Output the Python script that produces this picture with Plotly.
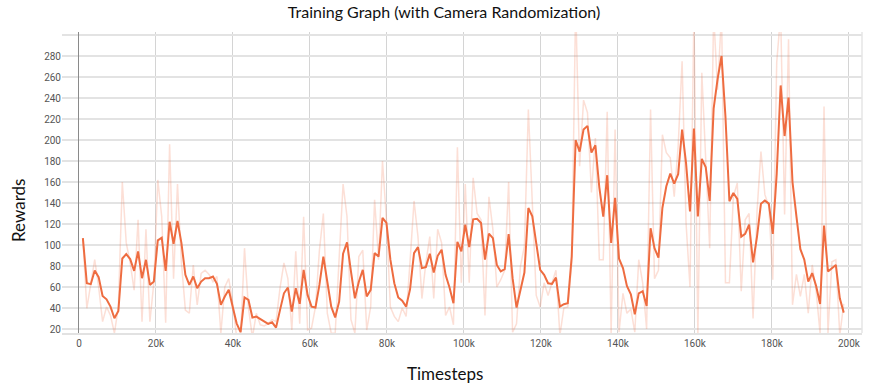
import plotly.graph_objects as go

# ---- data ----
STEP = 1024  # timesteps between logged points

smoothed_rewards = [
    106.6, 63.6, 62.7, 75.7, 69.4, 51.5, 48.3, 41.3, 30.2, 37.2,
    87.2, 91.3, 86.6, 75.4, 93.9, 68.4, 85.9, 62.0, 65.2, 104.4,
    107.0, 75.4, 122.2, 101.2, 122.9, 101.8, 71.6, 62.0, 70.0, 58.9,
    65.2, 68.4, 68.4, 70.0, 63.0, 43.0, 51.0, 57.3, 41.3, 25.4,
    17.0, 50.0, 47.7, 31.0, 31.8, 29.2, 27.0, 24.8, 26.4, 21.3,
    38.0, 54.0, 59.5, 36.6, 58.9, 44.0, 76.4, 52.5, 41.3, 40.4,
    62.0, 89.0, 65.0, 41.3, 31.0, 46.0, 91.7, 102.5, 74.8, 49.3,
    65.0, 76.4, 51.0, 57.3, 92.4, 89.0, 125.8, 121.0, 86.0, 63.6,
    50.0, 47.0, 41.3, 58.0, 92.3, 98.0, 78.0, 79.0, 91.7, 73.8,
    89.7, 95.5, 71.6, 59.5, 44.5, 103.0, 94.0, 119.4, 98.0, 124.5,
    125.0, 121.0, 86.0, 110.8, 106.6, 81.0, 74.8, 77.0, 110.4, 68.4,
    40.4, 57.3, 73.8, 135.3, 127.3, 101.8, 76.4, 71.6, 63.6, 63.0,
    69.0, 41.3, 43.6, 44.5, 89.0, 200.0, 189.0, 210.0, 213.5, 188.0,
    195.0, 155.0, 127.0, 166.5, 102.0, 145.0, 87.0, 78.0, 61.0, 53.0,
    34.0, 54.0, 56.0, 42.0, 116.0, 97.0, 88.0, 135.3, 156.0, 168.0,
    158.5, 167.5, 210.0, 178.0, 132.0, 211.0, 127.3, 182.0, 174.0, 142.0,
    230.0, 258.0, 280.0, 222.0, 141.7, 149.6, 144.0, 108.0, 110.6, 119.4,
    83.4, 108.0, 139.4, 142.3, 139.4, 110.6, 168.0, 252.0, 203.8, 240.4,
    160.0, 127.3, 96.0, 86.0, 65.2, 73.2, 61.0, 43.9, 118.5, 74.8,
    78.0, 81.0, 49.3, 35.6,
]

raw_rewards = [
    106.6, 39.7, 63, 86, 60, 27, 41, 33, 16, 41,
    160, 102, 83, 57, 124, 27, 115, 27, 64, 162,
    127, 26, 196, 68, 158, 83, 38, 35, 81, 43,
    73, 76, 72, 65, 70, 16, 60, 68, 45, 12,
    12, 97, 40, 12, 35, 24, 23, 25, 29, 27,
    59, 83, 68, 19, 94, 25, 127, 19, 21, 41,
    95, 130, 35, 16, 16, 86, 158, 127, 29, 16,
    89, 95, 19, 41, 143, 86, 180, 124, 41, 32,
    27, 40, 32, 85, 142, 108, 49, 83, 108, 49,
    115, 102, 33, 41, 24, 193, 64, 158, 64, 164,
    130, 124, 33, 146, 115, 60, 67, 76, 160, 17,
    25, 80, 99, 229, 134, 52, 41, 64, 52, 64,
    76, 14, 40, 41, 83, 330, 175, 238, 226, 150,
    202, 86, 86, 227, 16, 210, 17, 54, 35, 39,
    17, 86, 64, 20, 229, 68, 76, 205, 188, 183,
    146, 194, 275, 121, 60, 320, 14, 264, 185, 97,
    320, 248, 320, 64, 64, 146, 159, 56, 124, 130,
    30, 132, 189, 148, 137, 67, 274, 320, 129, 296,
    43, 72, 51, 72, 35, 81, 56, 16, 232, 16,
    84, 86, 14, 44,
]

timesteps = [STEP * (i + 1) for i in range(len(smoothed_rewards))]

x_tick_values = [0, 20000, 40000, 60000, 80000, 100000, 120000, 140000, 160000, 180000, 200000]
x_tick_labels = ["0", "20k", "40k", "60k", "80k", "100k", "120k", "140k", "160k", "180k", "200k"]
y_tick_values = [20, 40, 60, 80, 100, 120, 140, 160, 180, 200, 220, 240, 260, 280, 300]
y_tick_labels = ["20", "40", "60", "80", "100", "120", "140", "160", "180", "200", "220", "240", "260", "280", ""]

title_text = "Training Graph (with Camera Randomization)"
x_title = "Timesteps"
y_title = "Rewards"

# ---- figure ----
fig = go.Figure()
fig.add_trace(go.Scatter(
    x=timesteps, y=raw_rewards, mode="lines",
    line=dict(color="rgba(240,110,70,0.22)", width=1.5),
    hoverinfo="skip", showlegend=False,
))
fig.add_trace(go.Scatter(
    x=timesteps, y=smoothed_rewards, mode="lines",
    line=dict(color="#ee6c40", width=2),
    showlegend=False,
))

fig.update_layout(
    width=888, height=392,
    margin=dict(l=62, r=26, t=32, b=59),
    paper_bgcolor="white", plot_bgcolor="white",
    hovermode=False,
    title=dict(text=title_text, x=0.5, xref="container", xanchor="center",
               y=1 - 12 / 392, yref="container", yanchor="middle",
               font=dict(family="Lato", size=16, color="#111")),
    xaxis=dict(
        range=[-4400, 203400],
        tickvals=x_tick_values, ticktext=x_tick_labels,
        showgrid=True, gridcolor="#d4d4d4", gridwidth=1,
        zeroline=True, zerolinecolor="#8a8a8a", zerolinewidth=1,
        showline=True, linecolor="#e2e2e2", linewidth=1.5,
        ticks="", tickfont=dict(family="Roboto", size=10, color="#555"),
        automargin=False, fixedrange=True,
    ),
    yaxis=dict(
        range=[16.2, 302.9],
        tickvals=y_tick_values, ticktext=y_tick_labels,
        showgrid=True, gridcolor="#e3e3e3", gridwidth=1.5,
        zeroline=False, showline=False,
        ticks="", tickfont=dict(family="Roboto", size=10, color="#555"),
        automargin=False, fixedrange=True,
    ),
    shapes=[
        dict(type="line", xref="paper", yref="paper", x0=1, x1=1, y0=0, y1=1,
             line=dict(color="#e6e6e6", width=1.5)),
    ],
    annotations=[
        dict(text=y_title, x=(18 - 62) / 800, y=(333 - 211) / 301,
             xref="paper", yref="paper", showarrow=False, textangle=-90,
             xanchor="center", yanchor="middle",
             font=dict(family="Lato", size=17, color="#111")),
        dict(text=x_title, x=(445 - 62) / 800, y=(333 - 373) / 301,
             xref="paper", yref="paper", showarrow=False,
             xanchor="center", yanchor="middle",
             font=dict(family="Lato", size=17, color="#111")),
    ],
)

fig.write_html("out.html", config={"displayModeBar": False, "staticPlot": True},
               post_script="document.body.style.margin='0';")
